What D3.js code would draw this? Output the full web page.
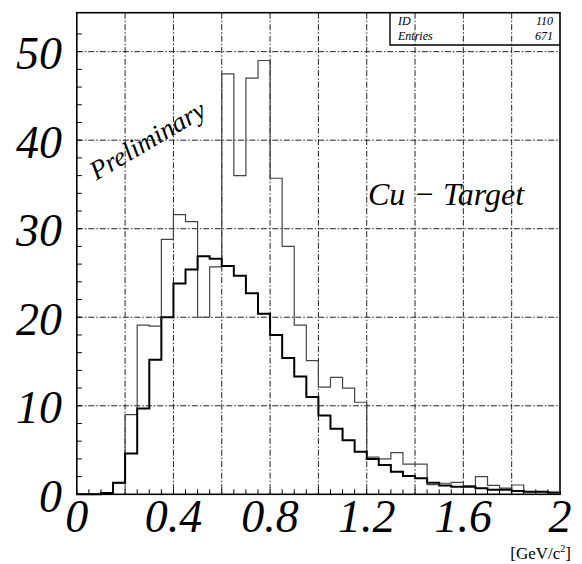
<!DOCTYPE html>
<html><head><meta charset="utf-8">
<script src="https://cdn.jsdelivr.net/npm/d3@7"></script>
<style>body{margin:0;background:#fff}</style>
</head><body>
<svg id="c" width="582" height="564"></svg>
<script>
// ---- data ----
const binWidth = 0.05;
const xDomain = [0, 2];
const yDomain = [0, 54.4];
const xTickLabels = ["0", "0.4", "0.8", "1.2", "1.6", "2"];
const xTickValues = [0, 0.4, 0.8, 1.2, 1.6, 2];
const yTickLabels = ["0", "10", "20", "30", "40", "50"];
const yTickValues = [0, 10, 20, 30, 40, 50];
const thinHist = [0, 0, 0.2, 1.3, 9.0, 19.1, 19.0, 28.8, 31.6, 30.8,
  20.0, 25.7, 47.5, 36.0, 47.0, 49.0, 35.7, 28.0, 19.1, 15.1,
  12.1, 13.2, 12.0, 10.4, 4.2, 4.0, 4.7, 3.4, 3.4, 1.1,
  1.25, 1.35, 0.95, 2.0, 1.0, 0.7, 1.05, 0.3, 0.3, 0.2];
const thickHist = [0, 0, 0.15, 1.3, 4.6, 9.7, 15.2, 20.0, 23.8, 25.4,
  26.9, 26.6, 25.8, 24.7, 22.7, 20.4, 18.0, 15.4, 13.3, 11.0,
  8.9, 7.4, 6.1, 4.8, 4.0, 3.3, 2.55, 2.07, 1.8, 1.3,
  1.0, 0.86, 0.86, 0.68, 0.5, 0.5, 0.37, 0.3, 0.3, 0.2];
const statsRows = [["ID", "110"], ["Entries", "671"]];

// ---- drawing ----
const FF = '"Liberation Serif", "Times New Roman", serif';
const svg = d3.select("#c");
const L = 76.8, R = 560, T = 12.7, B = 494.3;
const x = d3.scaleLinear().domain(xDomain).range([L, R]);
const y = d3.scaleLinear().domain(yDomain).range([B, T]);

// grid
const grid = svg.append("g").attr("stroke", "#222").attr("stroke-width", 1)
  .attr("stroke-dasharray", "6,2,1.5,2").attr("fill", "none");
d3.range(0.2, 2, 0.2).forEach(v => {
  grid.append("line").attr("x1", x(v)).attr("x2", x(v)).attr("y1", T).attr("y2", B);
});
[10, 20, 30, 40, 50].forEach(v => {
  grid.append("line").attr("x1", L).attr("x2", R).attr("y1", y(v)).attr("y2", y(v));
});

// minor ticks
const ticks = svg.append("g").attr("stroke", "#000").attr("stroke-width", 1);
d3.range(0, 40).forEach(i => {
  const xv = x(i * binWidth);
  ticks.append("line").attr("x1", xv).attr("x2", xv).attr("y1", B).attr("y2", B - 5);
});
d3.range(0, 54, 2).forEach(v => {
  ticks.append("line").attr("x1", L).attr("x2", L + 5).attr("y1", y(v)).attr("y2", y(v));
});

// histograms
function stepPath(vals) {
  let p = `M${x(0)},${y(0)}`;
  vals.forEach((v, i) => {
    p += `V${y(v)}H${x((i + 1) * binWidth)}`;
  });
  p += `V${y(0)}`;
  return p;
}
svg.append("path").attr("d", stepPath(thinHist)).attr("fill", "none")
  .attr("stroke", "#444").attr("stroke-width", 1.2);
svg.append("path").attr("d", stepPath(thickHist)).attr("fill", "none")
  .attr("stroke", "#000").attr("stroke-width", 2);

// frame
svg.append("rect").attr("x", L).attr("y", T).attr("width", R - L).attr("height", B - T)
  .attr("fill", "none").attr("stroke", "#000").attr("stroke-width", 1.6);

// axis labels
svg.append("g").selectAll("text").data(xTickValues).join("text")
  .attr("x", d => x(d)).attr("y", 532).attr("text-anchor", "middle")
  .style("font-family", FF).style("font-style", "italic").style("font-size", "46px")
  .text((d, i) => xTickLabels[i]);
svg.append("g").selectAll("text").data(yTickValues).join("text")
  .attr("x", 62).attr("y", d => y(d) + 17.5).attr("text-anchor", "end")
  .style("font-family", FF).style("font-style", "italic").style("font-size", "46px")
  .text((d, i) => yTickLabels[i]);

// unit
const u = svg.append("text").attr("x", 571).attr("y", 559).attr("text-anchor", "end")
  .style("font-family", FF).style("font-size", "17px");
u.append("tspan").text("[GeV/c");
u.append("tspan").style("font-size", "10px").attr("dy", -7).text("2");
u.append("tspan").attr("dy", 7).text("]");

// stats box
svg.append("path").attr("d", `M390,${T}V45H${R}`).attr("fill", "none")
  .attr("stroke", "#000").attr("stroke-width", 1.4);
statsRows.forEach((r, i) => {
  const by = 25 + i * 15;
  svg.append("text").attr("x", 398).attr("y", by)
    .style("font-family", FF).style("font-style", "italic").style("font-size", "12px").text(r[0]);
  svg.append("text").attr("x", 553).attr("y", by).attr("text-anchor", "end")
    .style("font-family", FF).style("font-style", "italic").style("font-size", "12px").text(r[1]);
});

// annotations
svg.append("text").attr("transform", "translate(152,148) rotate(-30.5)")
  .attr("text-anchor", "middle").style("font-family", FF).style("font-style", "italic")
  .style("font-size", "27px").text("Preliminary");
svg.append("text").attr("x", 368).attr("y", 205)
  .style("font-family", FF).style("font-style", "italic").style("font-size", "32px").text("Cu \u2212 Target");
</script>
</body></html>
